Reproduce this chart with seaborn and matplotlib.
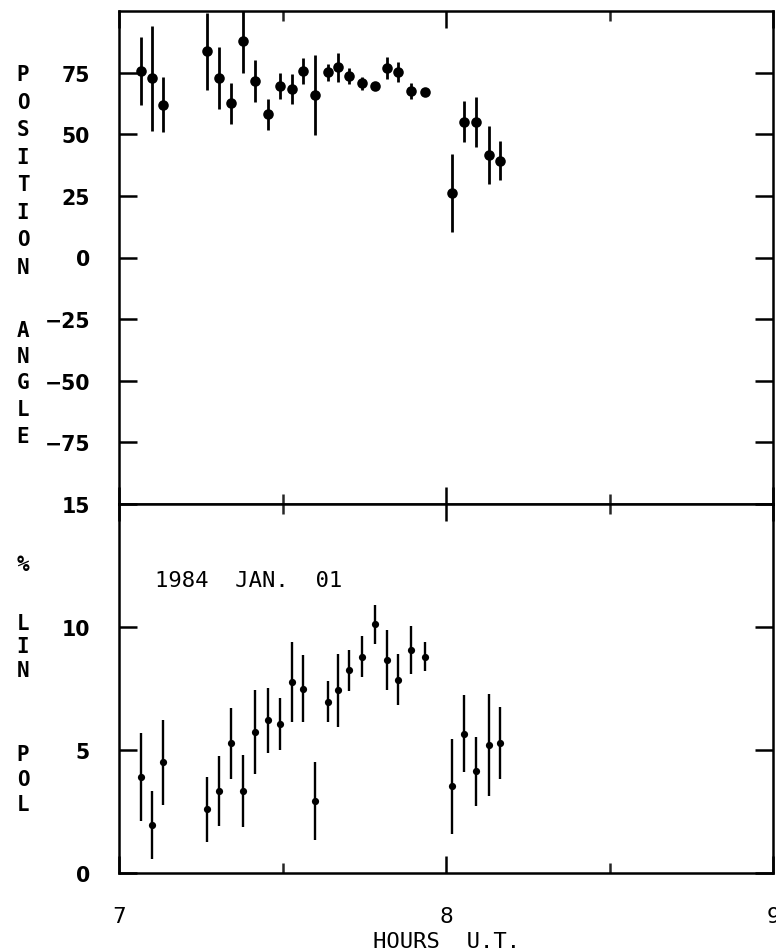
import numpy as np
import pandas as pd
import matplotlib
matplotlib.use("Agg")
import matplotlib.pyplot as plt
import seaborn as sns

# Observation times (hours UT)
hours = [7.066, 7.100, 7.135, 7.270, 7.306, 7.343, 7.380, 7.416, 7.455,
         7.493, 7.528, 7.562, 7.599, 7.638, 7.671, 7.704, 7.744, 7.784,
         7.819, 7.854, 7.892, 7.936, 8.019, 8.056, 8.091, 8.131, 8.165]

# Position angle (degrees) and its uncertainty
pos_angle = [75.5, 72.7, 62.0, 83.6, 72.7, 62.5, 88.0, 71.5, 58.2,
             69.4, 68.4, 75.5, 66.0, 75.1, 77.1, 73.6, 70.7, 69.7,
             76.9, 75.4, 67.4, 67.3, 26.1, 55.1, 55.1, 41.5, 39.3]
pos_err = [13.8, 21.2, 11.1, 15.6, 12.6, 8.2, 13.0, 8.6, 6.3,
           5.3, 6.0, 5.3, 16.3, 3.6, 6.0, 3.1, 2.7, 1.5,
           4.4, 4.1, 3.3, 1.5, 15.7, 8.2, 10.1, 11.7, 8.0]

# Percent linear polarization and its uncertainty
lin_pol = [3.90, 1.95, 4.50, 2.59, 3.33, 5.27, 3.33, 5.74, 6.20,
           6.05, 7.75, 7.50, 2.93, 6.97, 7.43, 8.24, 8.80, 10.11,
           8.67, 7.86, 9.07, 8.80, 3.53, 5.67, 4.13, 5.21, 5.27]
pol_err = [1.78, 1.38, 1.72, 1.31, 1.41, 1.45, 1.48, 1.70, 1.33,
           1.07, 1.63, 1.37, 1.59, 0.83, 1.48, 0.84, 0.84, 0.79,
           1.22, 1.03, 0.97, 0.58, 1.93, 1.57, 1.41, 2.08, 1.46]

pa_ticks = [-75, -50, -25, 0, 25, 50, 75]
pol_ticks = [0, 5, 10, 15]
hour_ticks = [7, 8, 9]
hour_minor = [7.5, 8.5]

df = pd.DataFrame({"hours": hours, "pa": pos_angle, "pa_err": pos_err,
                   "pol": lin_pol, "pol_err": pol_err})

sns.set_style("ticks")
plt.rcParams["font.family"] = ["DejaVu Sans"]

W, H = 776, 953
fig = plt.figure(figsize=(W / 100, H / 100), dpi=100)
L, R = 119, 773
ax1 = fig.add_axes([L / W, 1 - 505 / H, (R - L) / W, (505 - 12) / H])
ax2 = fig.add_axes([L / W, 1 - 874 / H, (R - L) / W, (874 - 505) / H])

panels = [(ax1, "pa", "pa_err", 7.6, 2.0), (ax2, "pol", "pol_err", 5.2, 1.7)]
for ax, col, ecol, ms, elw in panels:
    ax.errorbar(df["hours"], df[col], yerr=df[ecol], fmt="none",
                ecolor="black", elinewidth=elw, capsize=0, zorder=2)
    sns.scatterplot(data=df, x="hours", y=col, ax=ax, color="black",
                    s=ms ** 2, linewidth=0, zorder=3, legend=False)
    ax.set_xlim(7, 9)
    ax.set_xticks(hour_ticks)
    ax.set_xticks(hour_minor, minor=True)
    ax.set_xlabel("")
    ax.set_ylabel("")
    for sp in ax.spines.values():
        sp.set_visible(True)
        sp.set_linewidth(1.8)
        sp.set_color("black")
    ax.tick_params(axis="y", which="major", direction="in", length=13,
                   width=1.8, left=True, right=True, pad=21,
                   labelsize=14.8, colors="black")
    ax.tick_params(axis="x", which="major", direction="in", length=12,
                   width=1.8, top=True, bottom=True, colors="black")
    ax.tick_params(axis="x", which="minor", direction="in", length=7,
                   width=1.8, top=True, bottom=True)

ax1.set_ylim(-100, 100)
ax1.set_yticks(pa_ticks)
ax1.set_yticklabels([str(t).replace("-", "\u2212") for t in pa_ticks])
ax1.tick_params(axis="x", labelbottom=False)

ax2.set_ylim(0, 15)
ax2.set_yticks(pol_ticks)
ax2.set_yticklabels([str(t) for t in pol_ticks])
ax2.tick_params(axis="x", which="major", pad=24, labelsize=15.5)

for lab in ax1.get_yticklabels() + ax2.get_yticklabels():
    lab.set_fontweight("bold")

# Stacked vertical axis titles
mono_bold = dict(family="DejaVu Sans Mono", weight="bold", fontsize=15,
                 ha="center", va="center", color="black")
top_letters = list("POSITION") + list("ANGLE")
top_y = [75, 103, 130, 158, 185, 213, 240, 268, 331, 357, 383, 410, 437]
for ch, y in zip(top_letters, top_y):
    fig.text(23 / W, 1 - y / H, ch, **mono_bold)

bot_letters = ["%", "L", "I", "N", "P", "O", "L"]
bot_y = [565, 624, 647, 671, 755, 780, 805]
for ch, y in zip(bot_letters, bot_y):
    fig.text(23 / W, 1 - y / H, ch, **mono_bold)

fig.text(155 / W, 1 - 581 / H, "1984  JAN.  01", family="DejaVu Sans Mono",
         fontsize=16, ha="left", va="center", color="black")
fig.text(447 / W, 1 - 948 / H, "HOURS  U.T.", family="DejaVu Sans Mono",
         fontsize=16, ha="center", va="baseline", color="black")

fig.savefig("out.png", dpi=100, facecolor="white")
